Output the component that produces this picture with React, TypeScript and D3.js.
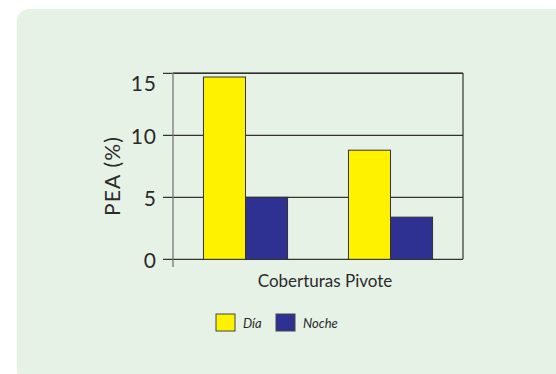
import React from "react";
import * as d3 from "d3";

// Grouped bar data: two unlabelled cover groups, day vs night PEA (%)
const groups = ["A", "B"];
const seriesNames = ["Día", "Noche"];
const diaValues = [14.7, 8.8];
const nocheValues = [5.0, 3.4];
const yTicks = [0, 5, 10, 15];
const seriesColors = ["#fff200", "#2e3192"];

const W = 556;
const H = 374;
const margin = { left: 173, right: 93, top: 73, bottom: 115 };

export default function App() {
  const plotW = W - margin.left - margin.right;
  const plotH = H - margin.top - margin.bottom;
  const x0 = d3.scaleBand<string>().domain(groups).range([0, plotW]).padding(0);
  const groupW = x0.bandwidth() * 0.58;
  const x1 = d3.scaleBand<string>().domain(seriesNames).range([0, groupW]).padding(0);
  const y = d3.scaleLinear().domain([0, 15]).range([plotH + 0.3, 0.3]);
  const seriesValues = [diaValues, nocheValues];
  const font = "Lato, 'Open Sans', sans-serif";

  return (
    <svg
      width={W}
      height={H}
      style={{ position: "absolute", left: 0, top: 0 }}
      fontFamily={font}
    >
      <rect x={0} y={0} width={W} height={H} fill="#ffffff" />
      <rect x={17} y={9} width={W} height={H} rx={12} fill="#e7f2e7" />
      <g transform={`translate(${margin.left},${margin.top})`}>
        {/* grid lines with tick stubs */}
        {yTicks.map((t) => (
          <line
            key={"g" + t}
            x1={-10}
            x2={plotW}
            y1={y(t)}
            y2={y(t)}
            stroke="#333"
            strokeWidth={1.2}
          />
        ))}
        {/* bars */}
        {groups.map((g, gi) => {
          const gx = (x0(g) ?? 0) + (x0.bandwidth() - groupW) / 2;
          return seriesNames.map((s, si) => {
            const v = seriesValues[si][gi];
            return (
              <rect
                key={g + s}
                x={gx + (x1(s) ?? 0)}
                y={y(v)}
                width={x1.bandwidth()}
                height={y(0) - y(v)}
                fill={seriesColors[si]}
                stroke="#333"
                strokeWidth={1}
              />
            );
          });
        })}
        {/* frame */}
        <line x1={0} x2={plotW} y1={0} y2={0} stroke="#333" strokeWidth={1.2} />
        <line x1={plotW} x2={plotW} y1={0} y2={plotH} stroke="#333" strokeWidth={1.2} />
        <line x1={0} x2={0} y1={0} y2={plotH + 8} stroke="#777" strokeWidth={1.3} />
        {/* y tick labels */}
        {yTicks.map((t) => (
          <text
            key={"t" + t}
            x={-16}
            y={Math.max(y(t), 9)}
            textAnchor="end"
            dominantBaseline="central"
            fontSize={21}
            letterSpacing={1}
            fill="#2a2a2a"
          >
            {t}
          </text>
        ))}
        {/* axis titles */}
        <text
          transform={`translate(${-62},${plotH / 2 + 10}) rotate(-90)`}
          textAnchor="middle"
          dominantBaseline="central"
          fontSize={21}
          letterSpacing={1.2}
          fill="#2a2a2a"
        >
          PEA (%)
        </text>
        <text
          x={plotW / 2 + 7}
          y={plotH + 21}
          textAnchor="middle"
          dominantBaseline="central"
          fontSize={17}
          fill="#2a2a2a"
        >
          Coberturas Pivote
        </text>
      </g>
      {/* legend */}
      <g transform="translate(216,314)">
        {seriesNames.map((s, i) => (
          <g key={s} transform={`translate(${i * 60},0)`}>
            <rect width={19} height={17} fill={seriesColors[i]} stroke="#444" strokeWidth={1} />
            <text
              x={27}
              y={9}
              dominantBaseline="central"
              fontSize={13}
              fontStyle="italic"
              fill="#2a2a2a"
            >
              {s}
            </text>
          </g>
        ))}
      </g>
    </svg>
  );
}
